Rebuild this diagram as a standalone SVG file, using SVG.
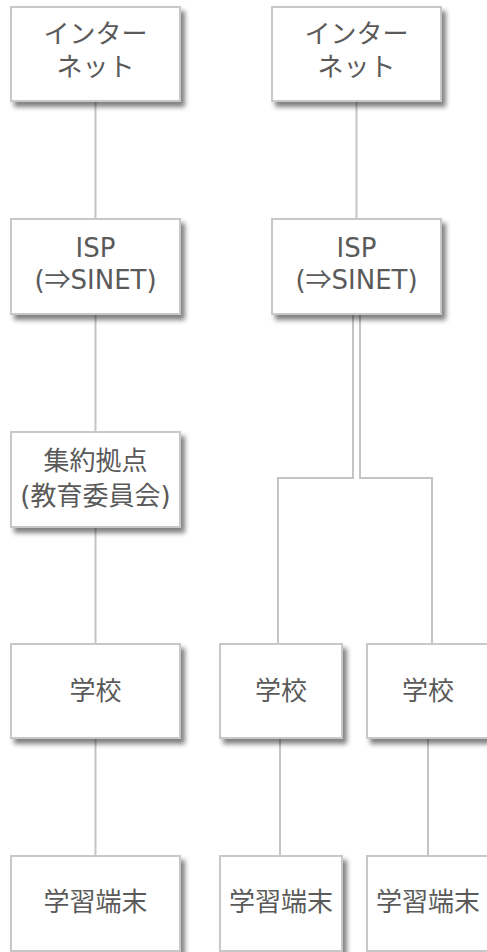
<svg xmlns="http://www.w3.org/2000/svg" width="487" height="952" viewBox="0 0 487 952">
<defs>
<filter id="sh" x="-10%" y="-10%" width="130%" height="130%">
<feGaussianBlur in="SourceAlpha" stdDeviation="2.5"/>
<feOffset dx="4" dy="5" result="b"/>
<feComponentTransfer><feFuncA type="linear" slope="0.5"/></feComponentTransfer>
<feMerge><feMergeNode/><feMergeNode in="SourceGraphic"/></feMerge>
</filter>
</defs>
<style>
.box{fill:#fff;stroke:#c8c8c8;stroke-width:2;filter:url(#sh)}
.t{font-family:"DejaVu Sans","Noto Sans CJK JP",sans-serif;font-size:26px;fill:#5a5a5a;text-anchor:middle}
.a{font-family:"Noto Sans CJK JP",sans-serif}
.c{fill:none;stroke:#c4c4c4;stroke-width:2}
</style>
<rect width="487" height="952" fill="#fff"/>
<g id="connectors">
<line class="c" x1="95.5" y1="101" x2="95.5" y2="219"/>
<line class="c" x1="95.5" y1="314" x2="95.5" y2="432"/>
<line class="c" x1="95.5" y1="527" x2="95.5" y2="644"/>
<line class="c" x1="95.5" y1="738" x2="95.5" y2="856"/>
<line class="c" x1="356.5" y1="101" x2="356.5" y2="219"/>
<polyline class="c" points="353,314 353,478 278,478 278,644"/>
<polyline class="c" points="360,314 360,478 432,478 432,644"/>
<line class="c" x1="280" y1="738" x2="280" y2="856"/>
<line class="c" x1="428" y1="738" x2="428" y2="856"/>
</g>
<g id="internet1"><rect class="box" x="11" y="7" width="169" height="94"/><text class="t" x="95.5" y="43">インター</text><text class="t" x="95.5" y="76">ネット</text></g>
<g id="isp1"><rect class="box" x="11" y="219" width="169" height="95"/><text class="t" x="95.5" y="257">ISP</text><text class="t" x="95.5" y="289">(<tspan class="a">⇒</tspan>SINET)</text></g>
<g id="hub"><rect class="box" x="11" y="432" width="169" height="95"/><text class="t" x="95.5" y="470">集約拠点</text><text class="t" x="95.5" y="505">(教育委員会)</text></g>
<g id="school1"><rect class="box" x="11" y="644" width="169" height="94"/><text class="t" x="95.5" y="700">学校</text></g>
<g id="terminal1"><rect class="box" x="11" y="856" width="169" height="95"/><text class="t" x="95.5" y="911">学習端末</text></g>
<g id="internet2"><rect class="box" x="272" y="7" width="169" height="94"/><text class="t" x="356.5" y="43">インター</text><text class="t" x="356.5" y="76">ネット</text></g>
<g id="isp2"><rect class="box" x="272" y="219" width="169" height="95"/><text class="t" x="356.5" y="257">ISP</text><text class="t" x="356.5" y="289">(<tspan class="a">⇒</tspan>SINET)</text></g>
<g id="school2"><rect class="box" x="220" y="644" width="122" height="94"/><text class="t" x="281" y="700">学校</text></g>
<g id="school3"><rect class="box" x="367" y="644" width="122" height="94"/><text class="t" x="428" y="700">学校</text></g>
<g id="terminal2"><rect class="box" x="220" y="856" width="122" height="95"/><text class="t" x="281" y="911">学習端末</text></g>
<g id="terminal3"><rect class="box" x="367" y="856" width="122" height="95"/><text class="t" x="428" y="911">学習端末</text></g>
</svg>
